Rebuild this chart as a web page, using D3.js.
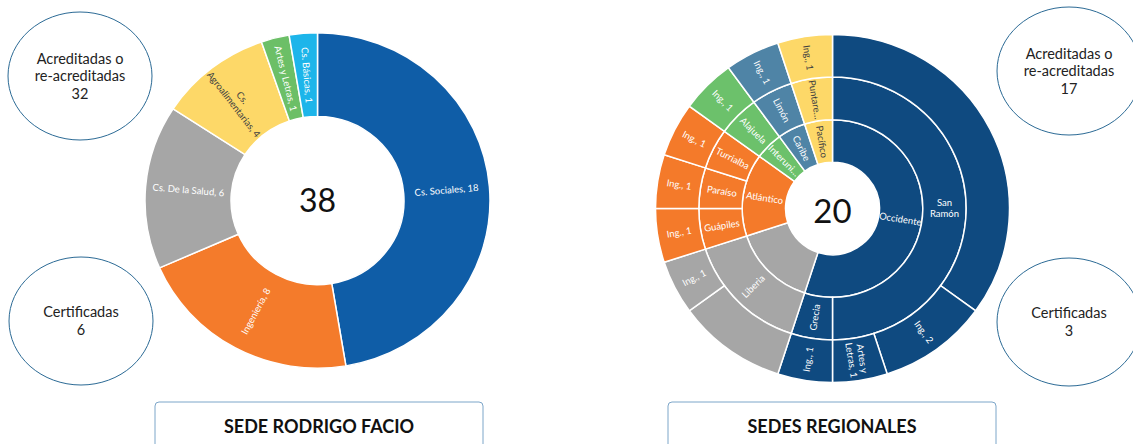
<!DOCTYPE html>
<html>
<head>
<meta charset="utf-8">
<script src="https://cdn.jsdelivr.net/npm/d3@7"></script>
<style>
  body { margin: 0; background: #fff; }
  svg { display: block; font-family: Lato, "Open Sans", sans-serif; }
</style>
</head>
<body>
<div id="vis-container"></div>
<script>
// sede Rodrigo Facio (donut)
const rfAreas = ["Cs. Sociales", "Ingeniería", "Cs. De la Salud", "Cs.\nAgroalimentarias", "Artes y Letras", "Cs. Básicas"];
const rfCounts = [18, 8, 6, 4, 1, 1];
const rfAcreditadas = 32;
const rfCertificadas = 6;

// sedes regionales (sunburst): sede -> recinto -> area
const sedeNames = ["Occidente", "", "Atlántico", "Interuni…", "Caribe", "Pacífico"];
const recintos = ["San\nRamón", "Grecia", "Liberia", "Guápiles", "Paraíso", "Turrialba", "Alajuela", "Limón", "Puntare…"];
const recintoSede = [0, 0, 1, 2, 2, 2, 3, 4, 5];
const areas = ["", "Ing.", "Artes y\nLetras", "Ing.", "", "Ing.", "Ing.", "Ing.", "Ing.", "Ing.", "Ing.", "Ing."];
const areaRecinto = [0, 0, 0, 1, 2, 2, 3, 4, 5, 6, 7, 8];
const areaCounts = [7, 2, 1, 1, 2, 1, 1, 1, 1, 1, 1, 1];
const regAcreditadas = 17;
const regCertificadas = 3;

const titles = ["SEDE RODRIGO FACIO", "SEDES REGIONALES"];

const width = 1133;
const height = 444;

const svg = d3.select("#vis-container")
    .append("svg")
    .attr("width", width)
    .attr("height", height)
    .attr("viewBox", [0, 0, width, height]);

const rfColor = d3.scaleOrdinal()
    .domain(rfAreas)
    .range(["#0f5da7", "#f47b2b", "#a6a6a6", "#fdd868", "#6cbf67", "#1db5ea"]);

const sedeColor = d3.scaleOrdinal()
    .domain(d3.range(sedeNames.length))
    .range(["#0f4a80", "#a6a6a6", "#f47a2a", "#6cc16b", "#4f84a6", "#fdd868"]);

const darkText = new Set(["#fdd868"]);

// rotate label along the radius, keep it readable
function labelRotation(a) {
    let deg = a * 180 / Math.PI + 90;
    while (deg > 180) deg -= 360;
    if (deg > 90) deg -= 180;
    if (deg < -90) deg += 180;
    return deg;
}

function drawLabel(g, x, y, rot, lines, fill, size) {
    const t = g.append("text")
        .attr("transform", `translate(${x},${y}) rotate(${rot})`)
        .attr("text-anchor", "middle")
        .attr("font-size", size)
        .attr("fill", fill);
    const lh = size * 1.15;
    lines.forEach((l, i) => {
        t.append("tspan")
            .attr("x", 0)
            .attr("y", (i - (lines.length - 1) / 2) * lh)
            .attr("dy", "0.35em")
            .text(l);
    });
}

// ---------- donut: Rodrigo Facio ----------
{
    const cx = 317.5, cy = 200.5, rOut = 172.5, rIn = 86.5, sy = 0.972;
    const pie = d3.pie().sort(null).value((d) => d.count);
    const slices = pie(rfAreas.map((a, i) => ({ area: a, count: rfCounts[i] })));
    const arc = d3.arc().innerRadius(rIn).outerRadius(rOut);

    svg.append("g")
        .attr("transform", `translate(${cx},${cy}) scale(1,${sy})`)
        .selectAll("path")
        .data(slices)
        .enter()
        .append("path")
        .attr("d", arc)
        .attr("fill", (d) => rfColor(d.data.area))
        .attr("stroke", "#fff")
        .attr("stroke-width", 1.5)
        .attr("vector-effect", "non-scaling-stroke");

    const lg = svg.append("g").attr("transform", `translate(${cx},${cy})`);
    const rl = (rIn + rOut) / 2;
    slices.forEach((d) => {
        const a = (d.startAngle + d.endAngle) / 2;
        const lines = (d.data.area + ", " + d.data.count).split("\n");
        const c = rfColor(d.data.area);
        drawLabel(lg, rl * Math.sin(a), -rl * Math.cos(a) * sy, labelRotation(a), lines,
            darkText.has(c) ? "#404040" : "#fff", 9.5);
    });

    svg.append("text")
        .attr("x", cx)
        .attr("y", cy)
        .attr("dy", "0.36em")
        .attr("text-anchor", "middle")
        .attr("font-size", 32)
        .attr("fill", "#111")
        .text(d3.sum(rfCounts));
}

// ---------- sunburst: sedes regionales ----------
{
    const cx = 832.5, cy = 208.5, sy = 0.983;

    const tree = {
        name: "root",
        children: sedeNames.map((s, si) => ({
            name: s, sede: si,
            children: recintos.map((r, ri) => ({ name: r, idx: ri }))
                .filter((r) => recintoSede[r.idx] === si)
                .map((r) => ({
                    name: r.name,
                    children: areas.map((a, ai) => ({ name: a, value: areaCounts[ai], rec: areaRecinto[ai] }))
                        .filter((a) => a.rec === r.idx)
                }))
        }))
    };

    const root = d3.hierarchy(tree).sum((d) => d.children ? 0 : d.value);
    d3.partition().size([2 * Math.PI, root.height + 1])(root);

    const radius = d3.scaleLinear().domain([1, 4]).range([47, 177]);
    const arc = d3.arc()
        .startAngle((d) => d.x0)
        .endAngle((d) => d.x1)
        .innerRadius((d) => radius(d.y0))
        .outerRadius((d) => radius(d.y1));

    const nodes = root.descendants().filter((d) => d.depth > 0);
    const sedeOf = (d) => d.ancestors().find((a) => a.depth === 1).data.sede;

    svg.append("g")
        .attr("transform", `translate(${cx},${cy}) scale(1,${sy})`)
        .selectAll("path")
        .data(nodes)
        .enter()
        .append("path")
        .attr("d", arc)
        .attr("fill", (d) => sedeColor(sedeOf(d)))
        .attr("stroke", "#fff")
        .attr("stroke-width", 1.5)
        .attr("vector-effect", "non-scaling-stroke");

    const lg = svg.append("g").attr("transform", `translate(${cx},${cy})`);
    nodes.forEach((d) => {
        if (!d.data.name) return;
        const a = (d.x0 + d.x1) / 2;
        const r = (radius(d.y0) + radius(d.y1)) / 2;
        const txt = d.depth === 3 ? d.data.name + ", " + d.value : d.data.name;
        const c = sedeColor(sedeOf(d));
        drawLabel(lg, r * Math.sin(a), -r * Math.cos(a) * sy, labelRotation(a), txt.split("\n"),
            darkText.has(c) ? "#404040" : "#fff", 9.5);
    });

    svg.append("text")
        .attr("x", cx)
        .attr("y", cy + 3)
        .attr("dy", "0.36em")
        .attr("text-anchor", "middle")
        .attr("font-size", 33)
        .attr("fill", "#111")
        .text(root.value);
}

// ---------- count bubbles ----------
const bubbles = [
    { x: 80, y: 76, lines: ["Acreditadas o", "re-acreditadas", rfAcreditadas] },
    { x: 81, y: 321, lines: ["Certificadas", rfCertificadas] },
    { x: 1069, y: 71, lines: ["Acreditadas o", "re-acreditadas", regAcreditadas] },
    { x: 1069, y: 322, lines: ["Certificadas", regCertificadas] }
];

bubbles.forEach((b) => {
    svg.append("ellipse")
        .attr("cx", b.x)
        .attr("cy", b.y)
        .attr("rx", 72)
        .attr("ry", 64)
        .attr("fill", "#fff")
        .attr("stroke", "#2b6a95")
        .attr("stroke-width", 1);
    const t = svg.append("text")
        .attr("text-anchor", "middle")
        .attr("font-size", 14.5)
        .attr("fill", "#222");
    b.lines.forEach((l, i) => {
        t.append("tspan")
            .attr("x", b.x)
            .attr("y", b.y + (i - (b.lines.length - 1) / 2) * 17.5)
            .attr("dy", "0.35em")
            .text(l);
    });
});

// ---------- title boxes ----------
const boxes = [{ x: 155, w: 328 }, { x: 668, w: 328 }];
boxes.forEach((b, i) => {
    svg.append("rect")
        .attr("x", b.x)
        .attr("y", 402)
        .attr("width", b.w)
        .attr("height", 60)
        .attr("rx", 4)
        .attr("fill", "#fff")
        .attr("stroke", "#7da6c9")
        .attr("stroke-width", 1);
    svg.append("text")
        .attr("x", b.x + b.w / 2)
        .attr("y", 427)
        .attr("dy", "0.35em")
        .attr("text-anchor", "middle")
        .attr("font-size", 18)
        .attr("font-weight", "bold")
        .attr("fill", "#111")
        .text(titles[i]);
});
</script>
</body>
</html>
